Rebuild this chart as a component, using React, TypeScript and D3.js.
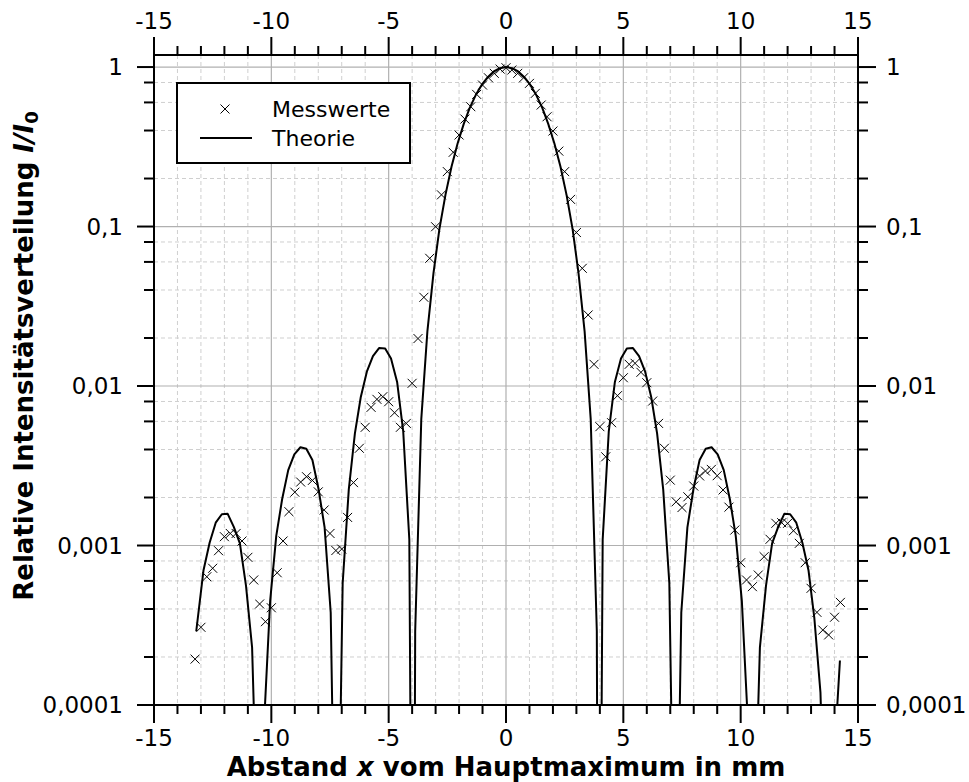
import React from 'react';
import * as d3 from 'd3';

// Messwerte (x in mm, relative Intensitaet)
const messX = [-13.25, -13, -12.75, -12.5, -12.25, -12, -11.75, -11.5, -11.25, -11, -10.75, -10.5, -10.25, -10, -9.75, -9.5, -9.25, -9, -8.75, -8.5, -8.25, -8, -7.75, -7.5, -7.25, -7, -6.75, -6.5, -6.25, -6, -5.75, -5.5, -5.25, -5, -4.75, -4.5, -4.25, -4, -3.75, -3.5, -3.25, -3, -2.75, -2.5, -2.25, -2, -1.75, -1.5, -1.25, -1, -0.75, -0.5, -0.25, 0, 0.25, 0.5, 0.75, 1, 1.25, 1.5, 1.75, 2, 2.25, 2.5, 2.75, 3, 3.25, 3.5, 3.75, 4, 4.25, 4.5, 4.75, 5, 5.25, 5.5, 5.75, 6, 6.25, 6.5, 6.75, 7, 7.25, 7.5, 7.75, 8, 8.25, 8.5, 8.75, 9, 9.25, 9.5, 9.75, 10, 10.25, 10.5, 10.75, 11, 11.25, 11.5, 11.75, 12, 12.25, 12.5, 12.75, 13, 13.25, 13.5, 13.75, 14, 14.25];
const messY = [1.94e-4, 3.07e-4, 6.37e-4, 7.2e-4, 9.28e-4, 1.136e-3, 1.19e-3, 1.19e-3, 1.067e-3, 8.43e-4, 6.08e-4, 4.3e-4, 3.33e-4, 4.07e-4, 6.75e-4, 1.067e-3, 1.63e-3, 2.16e-3, 2.5e-3, 2.7e-3, 2.56e-3, 2.17e-3, 1.67e-3, 1.19e-3, 9.3e-4, 9.5e-4, 1.5e-3, 2.48e-3, 4.07e-3, 5.51e-3, 7.35e-3, 8.25e-3, 8.57e-3, 7.97e-3, 6.8e-3, 5.51e-3, 5.83e-3, 1.04e-2, 1.985e-2, 3.6e-2, 6.32e-2, 9.97e-2, 0.158, 0.221, 0.292, 0.375, 0.472, 0.564, 0.674, 0.771, 0.857, 0.913, 0.971, 0.99, 0.958, 0.913, 0.857, 0.79, 0.684, 0.578, 0.488, 0.397, 0.297, 0.221, 0.148, 9.17e-2, 5.47e-2, 2.79e-2, 1.368e-2, 5.56e-3, 3.6e-3, 5.89e-3, 8.7e-3, 1.127e-2, 1.368e-2, 1.388e-2, 1.219e-2, 1.049e-2, 8.05e-3, 5.83e-3, 4.07e-3, 2.57e-3, 1.88e-3, 1.73e-3, 2.02e-3, 2.36e-3, 2.73e-3, 2.93e-3, 3.0e-3, 2.74e-3, 2.23e-3, 1.74e-3, 1.25e-3, 7.8e-4, 6.08e-4, 5.52e-4, 6.53e-4, 8.51e-4, 1.094e-3, 1.378e-3, 1.39e-3, 1.378e-3, 1.238e-3, 1.032e-3, 7.8e-4, 5.39e-4, 3.81e-4, 2.95e-4, 2.75e-4, 3.55e-4, 4.4e-4];

// Theorie
const theoX = [-13.2, -12.89, -12.63, -12.37, -12.11, -11.86, -11.6, -11.34, -11.08, -10.82, -10.57, -10.31, -10.05, -9.79, -9.54, -9.28, -9.02, -8.76, -8.51, -8.25, -7.99, -7.73, -7.47, -7.22, -6.96, -6.7, -6.44, -6.19, -5.93, -5.67, -5.41, -5.15, -4.9, -4.64, -4.38, -4.12, -3.95, -3.87, -3.61, -3.35, -3.09, -2.84, -2.58, -2.32, -2.06, -1.8, -1.55, -1.29, -1.03, -0.77, -0.52, -0.26, 0,
  0.26, 0.52, 0.77, 1.03, 1.29, 1.55, 1.8, 2.06, 2.32, 2.58, 2.84, 3.09, 3.35, 3.61, 3.87, 3.95, 4.12, 4.38, 4.64, 4.9, 5.15, 5.41, 5.67, 5.93, 6.19, 6.44, 6.7, 6.96, 7.22, 7.47, 7.73, 7.99, 8.25, 8.51, 8.76, 9.02, 9.28, 9.54, 9.79, 10.05, 10.31, 10.57, 10.82, 11.08, 11.34, 11.6, 11.86, 12.11, 12.37, 12.63, 12.89, 13.14, 13.4, 13.66, 13.92, 14.23];
const theoY = [2.9e-4, 7.0e-4, 1.04e-3, 1.39e-3, 1.57e-3, 1.58e-3, 1.31e-3, 1.03e-3, 5.6e-4, 2.3e-4, 1.2e-5, 7.6e-5, 4.5e-4, 1.15e-3, 1.95e-3, 2.97e-3, 3.73e-3, 4.13e-3, 4.04e-3, 3.44e-3, 2.27e-3, 1.3e-3, 3.8e-4, 2e-6, 5.8e-4, 2.24e-3, 5.03e-3, 8.5e-3, 1.23e-2, 1.54e-2, 1.73e-2, 1.72e-2, 1.49e-2, 1.06e-2, 5.2e-3, 1.09e-3, 1e-7, 2.9e-4, 6.2e-3, 2.2e-2, 5.1e-2, 9.6e-2, 0.158, 0.238, 0.333, 0.44, 0.553, 0.667, 0.775, 0.867, 0.939, 0.984, 1,
  0.984, 0.939, 0.867, 0.775, 0.667, 0.553, 0.44, 0.333, 0.238, 0.158, 0.096, 0.051, 0.022, 6.2e-3, 2.9e-4, 1e-7, 1.09e-3, 5.2e-3, 1.06e-2, 1.49e-2, 1.72e-2, 1.73e-2, 1.54e-2, 1.23e-2, 8.5e-3, 5.03e-3, 2.24e-3, 5.8e-4, 2e-6, 3.8e-4, 1.3e-3, 2.27e-3, 3.44e-3, 4.04e-3, 4.13e-3, 3.73e-3, 2.97e-3, 1.95e-3, 1.15e-3, 4.5e-4, 7.6e-5, 1.2e-5, 2.3e-4, 5.6e-4, 1.03e-3, 1.31e-3, 1.58e-3, 1.57e-3, 1.39e-3, 1.04e-3, 7.0e-4, 3.5e-4, 1.2e-4, 6e-6, 3.2e-5, 1.9e-4];

const xTickValues = [-15, -10, -5, 0, 5, 10, 15];
const yTickValues = [1e-4, 1e-3, 1e-2, 1e-1, 1];
const yTickLabels = ['0,0001', '0,001', '0,01', '0,1', '1'];
const legendLabels = ['Messwerte', 'Theorie'];

const W = 969, H = 782;
const L = 154, R = 858, T = 55, B = 705;
const FONT = 'DejaVu Sans';
const TICK_FS = 23;

export default function App() {
  const x = d3.scaleLinear().domain([-15, 15]).range([L, R]);
  const y = d3.scaleLog().domain([1e-4, 1.19]).range([B, T]);

  const xMinor = d3.range(-15, 16, 1).filter(v => v % 5 !== 0);
  const yMinor: number[] = [];
  [1e-4, 1e-3, 1e-2, 1e-1].forEach(d => [2, 4, 6, 8].forEach(m => yMinor.push(d * m)));

  const theo = theoX.map((v, i) => [v, theoY[i]] as [number, number]);
  const line = d3.line<[number, number]>().x(d => x(d[0])).y(d => y(d[1]));

  const cross = 'M-4.5,-4.5L4.5,4.5M-4.5,4.5L4.5,-4.5';

  return (
    <svg width={W} height={H} style={{ position: 'absolute', left: 0, top: 0, background: '#fff' }} fontFamily={FONT}>
      <defs>
        <clipPath id="plot"><rect x={L} y={T} width={R - L} height={B - T} /></clipPath>
      </defs>
      <rect x={0} y={0} width={W} height={H} fill="#fff" />

      {/* grid */}
      {xMinor.map(v => <line key={'gx' + v} x1={x(v)} x2={x(v)} y1={T} y2={B} stroke="#cfcfcf" strokeDasharray="4 3" />)}
      {yMinor.map(v => <line key={'gy' + v} x1={L} x2={R} y1={y(v)} y2={y(v)} stroke="#cfcfcf" strokeDasharray="4 3" />)}
      {xTickValues.slice(1, -1).map(v => <line key={'GX' + v} x1={x(v)} x2={x(v)} y1={T} y2={B} stroke="#b0b0b0" strokeWidth={1.2} />)}
      {yTickValues.slice(1).map(v => <line key={'GY' + v} x1={L} x2={R} y1={y(v)} y2={y(v)} stroke="#b0b0b0" strokeWidth={1.2} />)}

      {/* theory */}
      <path d={line(theo) || ''} fill="none" stroke="#000" strokeWidth={2} clipPath="url(#plot)" strokeLinejoin="round" />

      {/* measurements */}
      {messX.map((v, i) => (
        <path key={'m' + i} d={cross} transform={`translate(${x(v)},${y(messY[i])})`} stroke="#000" strokeWidth={1} fill="none" />
      ))}

      {/* frame */}
      <rect x={L} y={T} width={R - L} height={B - T} fill="none" stroke="#000" strokeWidth={2} />

      {/* x ticks */}
      {xMinor.map(v => (
        <g key={'tx' + v} stroke="#000" strokeWidth={2}>
          <line x1={x(v)} x2={x(v)} y1={T} y2={T - 9} />
          <line x1={x(v)} x2={x(v)} y1={B} y2={B + 9} />
        </g>
      ))}
      {xTickValues.map(v => (
        <g key={'TX' + v}>
          <line x1={x(v)} x2={x(v)} y1={T} y2={T - 18} stroke="#000" strokeWidth={2} />
          <line x1={x(v)} x2={x(v)} y1={B} y2={B + 18} stroke="#000" strokeWidth={2} />
          <text x={x(v)} y={T - 26} textAnchor="middle" fontSize={TICK_FS}>{v}</text>
          <text x={x(v)} y={B + 41} textAnchor="middle" fontSize={TICK_FS}>{v}</text>
        </g>
      ))}

      {/* y ticks */}
      {yMinor.map(v => (
        <g key={'ty' + v} stroke="#000" strokeWidth={2}>
          <line x1={L} x2={L - 10} y1={y(v)} y2={y(v)} />
          <line x1={R} x2={R + 10} y1={y(v)} y2={y(v)} />
        </g>
      ))}
      {yTickValues.map((v, i) => (
        <g key={'TY' + v}>
          <line x1={L} x2={L - 17} y1={y(v)} y2={y(v)} stroke="#000" strokeWidth={2} />
          <line x1={R} x2={R + 18} y1={y(v)} y2={y(v)} stroke="#000" strokeWidth={2} />
          <text x={L - 31} y={y(v)} dy="0.36em" textAnchor="end" fontSize={TICK_FS}>{yTickLabels[i]}</text>
          <text x={R + 28} y={y(v)} dy="0.36em" textAnchor="start" fontSize={TICK_FS}>{yTickLabels[i]}</text>
        </g>
      ))}

      {/* axis titles */}
      <text x={(L + R) / 2} y={776} textAnchor="middle" fontSize={26} fontWeight="bold">
        Abstand <tspan fontStyle="italic">x</tspan> vom Hauptmaximum in mm
      </text>
      <text transform="translate(33,356) rotate(-90)" textAnchor="middle" fontSize={26} fontWeight="bold">
        Relative Intensitätsverteilung <tspan fontStyle="italic">I/I</tspan><tspan fontSize={18} dy={5}>0</tspan>
      </text>

      {/* legend */}
      <rect x={177} y={83} width={233} height={80} fill="#fff" stroke="#000" strokeWidth={2} />
      <path d={cross} transform="translate(225,109)" stroke="#000" strokeWidth={1} fill="none" />
      <line x1={200} x2={252} y1={138} y2={138} stroke="#000" strokeWidth={2} />
      <text x={272} y={117} fontSize={22}>{legendLabels[0]}</text>
      <text x={272} y={146} fontSize={22}>{legendLabels[1]}</text>
    </svg>
  );
}
